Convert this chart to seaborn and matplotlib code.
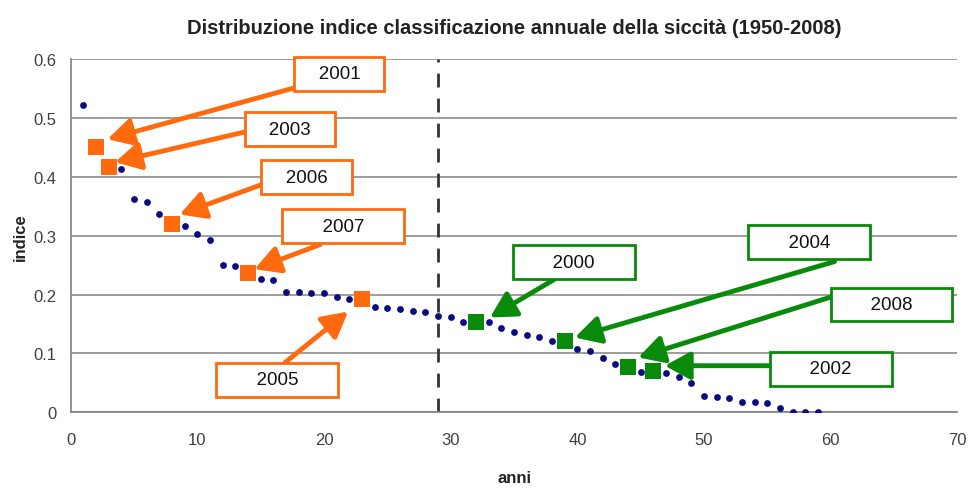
import matplotlib
matplotlib.use("Agg")
import matplotlib.pyplot as plt
import seaborn as sns
import pandas as pd

# ranked drought index, 1950-2008 (rank 1 = highest)
indice = [0.522, 0.451, 0.416, 0.413, 0.362, 0.358, 0.336, 0.320, 0.316, 0.303,
          0.292, 0.250, 0.248, 0.236, 0.227, 0.225, 0.205, 0.205, 0.203, 0.202,
          0.195, 0.193, 0.193, 0.178, 0.177, 0.175, 0.172, 0.171, 0.164, 0.161,
          0.154, 0.153, 0.153, 0.143, 0.137, 0.131, 0.127, 0.121, 0.121, 0.107,
          0.104, 0.092, 0.082, 0.077, 0.069, 0.070, 0.067, 0.059, 0.049, 0.028,
          0.025, 0.024, 0.018, 0.017, 0.015, 0.007, 0.001, 0.0, 0.0]
anni = list(range(1, len(indice) + 1))

# highlighted years and their rank
dry_years = [2001, 2003, 2006, 2007, 2005]
dry_rank = [2, 3, 8, 14, 23]
wet_years = [2000, 2004, 2008, 2002]
wet_rank = [32, 39, 44, 46]

soglia = 29

# label boxes (data coords): centre, arrow start, arrow tip
dry_box = [(21.2, 0.575), (17.3, 0.481), (18.6, 0.399), (21.5, 0.316), (16.3, 0.055)]
dry_start = [(17.8, 0.552), (13.7, 0.476), (15.1, 0.387), (19.7, 0.285), (16.9, 0.084)]
dry_tip = [(2.9, 0.464), (3.5, 0.425), (8.6, 0.336), (14.5, 0.243), (21.9, 0.171)]
wet_box = [(39.7, 0.255), (58.3, 0.289), (64.8, 0.183), (60.0, 0.074)]
wet_start = [(38.2, 0.226), (60.3, 0.256), (60.2, 0.197), (55.3, 0.079)]
wet_tip = [(33.1, 0.161), (39.8, 0.127), (44.8, 0.093), (46.9, 0.079)]

df = pd.DataFrame({"anni": anni, "indice": indice})
df_dry = df[df["anni"].isin(dry_rank)]
df_wet = df[df["anni"].isin(wet_rank)]

sns.set_style("white")
plt.rcParams["font.family"] = ["Liberation Sans", "DejaVu Sans"]

orange = "#ff6a0e"
green = "#0a8a0a"
navy = "#0a0a80"

fig = plt.figure(figsize=(9.69, 4.89), dpi=100)
ax = fig.add_axes([0.073, 0.155, 0.915, 0.722])

sns.scatterplot(data=df, x="anni", y="indice", color=navy, s=24, edgecolor=navy,
                linewidth=0, ax=ax, zorder=3)
sns.scatterplot(data=df_dry, x="anni", y="indice", color=orange, marker="s", s=120,
                linewidth=0, ax=ax, zorder=4)
sns.scatterplot(data=df_wet, x="anni", y="indice", color=green, marker="s", s=130,
                linewidth=0, ax=ax, zorder=4)

ax.axvline(soglia, color="#333333", lw=2, ls=(0, (5, 4)), zorder=2)

ax.set_xlim(0, 70)
ax.set_ylim(0, 0.6)
ax.set_xticks(range(0, 71, 10))
ax.set_yticks([0, 0.1, 0.2, 0.3, 0.4, 0.5, 0.6])
ax.set_yticklabels(["0", "0.1", "0.2", "0.3", "0.4", "0.5", "0.6"])
ax.yaxis.grid(True, color="#8c8c8c", lw=1.2)
ax.set_axisbelow(True)
for s in ["top", "right"]:
    ax.spines[s].set_visible(False)
for s in ["left", "bottom"]:
    ax.spines[s].set_color("#808080")
    ax.spines[s].set_linewidth(1.2)
ax.tick_params(direction="inout", length=8, width=1.2, color="#808080",
               labelsize=12, labelcolor="#404040", pad=6)
ax.tick_params(axis="x", pad=10)

ax.set_xlabel("anni", fontsize=12, fontweight="bold", color="#222222", labelpad=17)
ax.set_ylabel("indice", fontsize=12, fontweight="bold", color="#222222", labelpad=4)
ax.set_title("Distribuzione indice classificazione annuale della siccità (1950-2008)",
             fontsize=14.5, fontweight="bold", color="#222222", pad=19)


def label(text, box, start, tip, col, wide):
    sp = " " * (6 if wide else 3)
    ax.text(box[0], box[1], sp + str(text) + sp, ha="center", va="center",
            fontsize=13.5, color="#111111", zorder=6, clip_on=False,
            bbox=dict(boxstyle="square,pad=0.45", fc="white", ec=col, lw=2))
    ax.annotate("", xy=tip, xytext=start, zorder=5, annotation_clip=False,
                arrowprops=dict(arrowstyle="-|>,head_length=0.55,head_width=0.3",
                                color=col, lw=3.5, mutation_scale=28,
                                shrinkA=0, shrinkB=0))


for i, y in enumerate(dry_years):
    label(y, dry_box[i], dry_start[i], dry_tip[i], orange, i >= 3)
for i, y in enumerate(wet_years):
    label(y, wet_box[i], wet_start[i], wet_tip[i], green, True)

fig.savefig("out.png", dpi=100)
